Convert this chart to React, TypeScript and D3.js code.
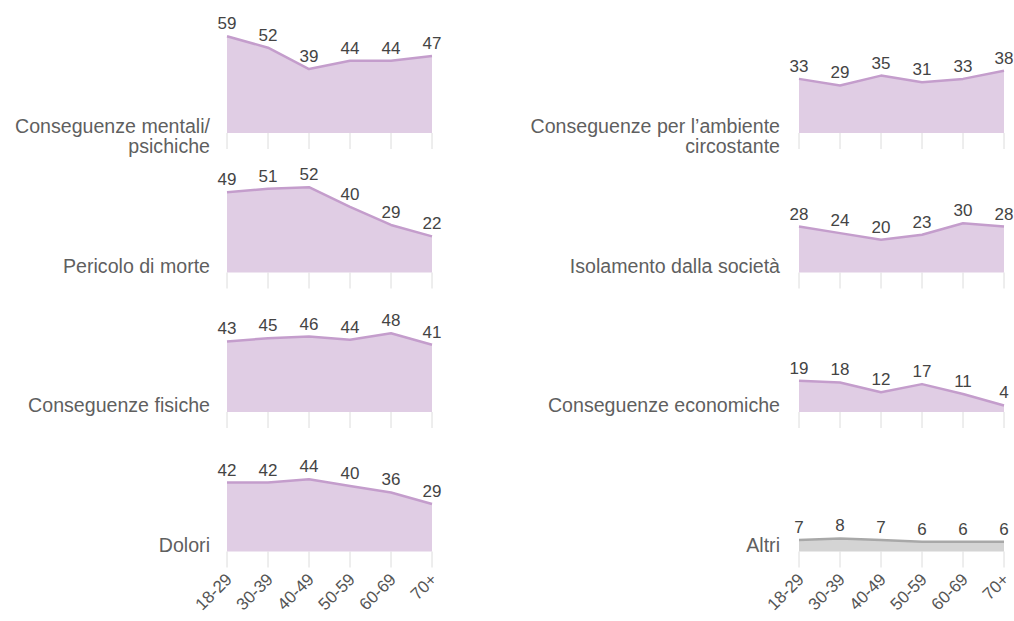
import React from "react";
import { scalePoint, scaleLinear, area, line, curveLinear } from "d3";

// age groups on the x axis
const AGE_GROUPS = ["18-29", "30-39", "40-49", "50-59", "60-69", "70+"];

// left column
const MENTALI = [59, 52, 39, 44, 44, 47];
const MORTE = [49, 51, 52, 40, 29, 22];
const FISICHE = [43, 45, 46, 44, 48, 41];
const DOLORI = [42, 42, 44, 40, 36, 29];

// right column
const AMBIENTE = [33, 29, 35, 31, 33, 38];
const ISOLAMENTO = [28, 24, 20, 23, 30, 28];
const ECONOMICHE = [19, 18, 12, 17, 11, 4];
const ALTRI = [7, 8, 7, 6, 6, 6];

const LEFT_LABELS = [["Conseguenze mentali/", "psichiche"], ["Pericolo di morte"], ["Conseguenze fisiche"], ["Dolori"]];
const RIGHT_LABELS = [["Conseguenze per l’ambiente", "circostante"], ["Isolamento dalla società"], ["Conseguenze economiche"], ["Altri"]];

const LEFT_SERIES = [MENTALI, MORTE, FISICHE, DOLORI];
const RIGHT_SERIES = [AMBIENTE, ISOLAMENTO, ECONOMICHE, ALTRI];

const FONT = "'Liberation Sans', Arial, Helvetica, sans-serif";
const PURPLE = { fill: "#e0cde4", stroke: "#c49dcc" };
const GREY = { fill: "#d4d4d4", stroke: "#a8a8a8" };

const width = 1014;
const height = 621;
const firstBaseline = 133;
const rowStep = 139.5;
const panelHeight = 98.4; // height of value 60

type PanelProps = {
  values: number[];
  label: string[];
  baseline: number;
  x: any;
  labelX: number;
  colors: { fill: string; stroke: string };
  showAxis: boolean;
};

function Panel({ values, label, baseline, x, labelX, colors, showAxis }: PanelProps) {
  const y = scaleLinear().domain([0, 60]).range([baseline, baseline - panelHeight]);
  const pts = values.map((v, i) => ({ k: AGE_GROUPS[i], v }));
  const areaGen = area<any>()
    .x(d => x(d.k))
    .y0(baseline)
    .y1(d => y(d.v))
    .curve(curveLinear);
  const lineGen = line<any>()
    .x(d => x(d.k))
    .y(d => y(d.v));

  return (
    <g>
      {/* tick lines under the area */}
      {AGE_GROUPS.map(k => (
        <line key={k} x1={x(k)} x2={x(k)} y1={baseline} y2={baseline + 16} stroke="#dcdcdc" strokeWidth={1} />
      ))}
      <path d={areaGen(pts) || ""} fill={colors.fill} />
      <path d={lineGen(pts) || ""} fill="none" stroke={colors.stroke} strokeWidth={2.5} strokeLinejoin="round" />
      {pts.map(d => (
        <text key={d.k} x={x(d.k)} y={y(d.v) - 7} textAnchor="middle" fontSize={17} fill="#444">
          {d.v}
        </text>
      ))}
      <text x={labelX} y={baseline} textAnchor="end" fontSize={19.6} fill="#5f5f5f">
        {label.map((l, i) => (
          <tspan key={i} x={labelX} dy={i === 0 ? 0 : 20}>
            {l}
          </tspan>
        ))}
      </text>
      {showAxis &&
        AGE_GROUPS.map(k => (
          <text
            key={k}
            transform={`translate(${x(k) + 6}, ${baseline + 29}) rotate(-45)`}
            textAnchor="end"
            fontSize={17}
            fill="#555"
          >
            {k}
          </text>
        ))}
    </g>
  );
}

export default function App() {
  const xLeft = scalePoint().domain(AGE_GROUPS).range([227, 432]);
  const xRight = scalePoint().domain(AGE_GROUPS).range([799, 1004]);

  return (
    <svg width={width} height={height} style={{ position: "absolute", left: 0, top: 0 }} fontFamily={FONT}>
      <rect width={width} height={height} fill="#fff" />
      {LEFT_SERIES.map((vals, i) => (
        <Panel
          key={"l" + i}
          values={vals}
          label={LEFT_LABELS[i]}
          baseline={firstBaseline + i * rowStep}
          x={xLeft}
          labelX={210}
          colors={PURPLE}
          showAxis={i === LEFT_SERIES.length - 1}
        />
      ))}
      {RIGHT_SERIES.map((vals, i) => (
        <Panel
          key={"r" + i}
          values={vals}
          label={RIGHT_LABELS[i]}
          baseline={firstBaseline + i * rowStep}
          x={xRight}
          labelX={780}
          colors={i === RIGHT_SERIES.length - 1 ? GREY : PURPLE}
          showAxis={i === RIGHT_SERIES.length - 1}
        />
      ))}
    </svg>
  );
}
